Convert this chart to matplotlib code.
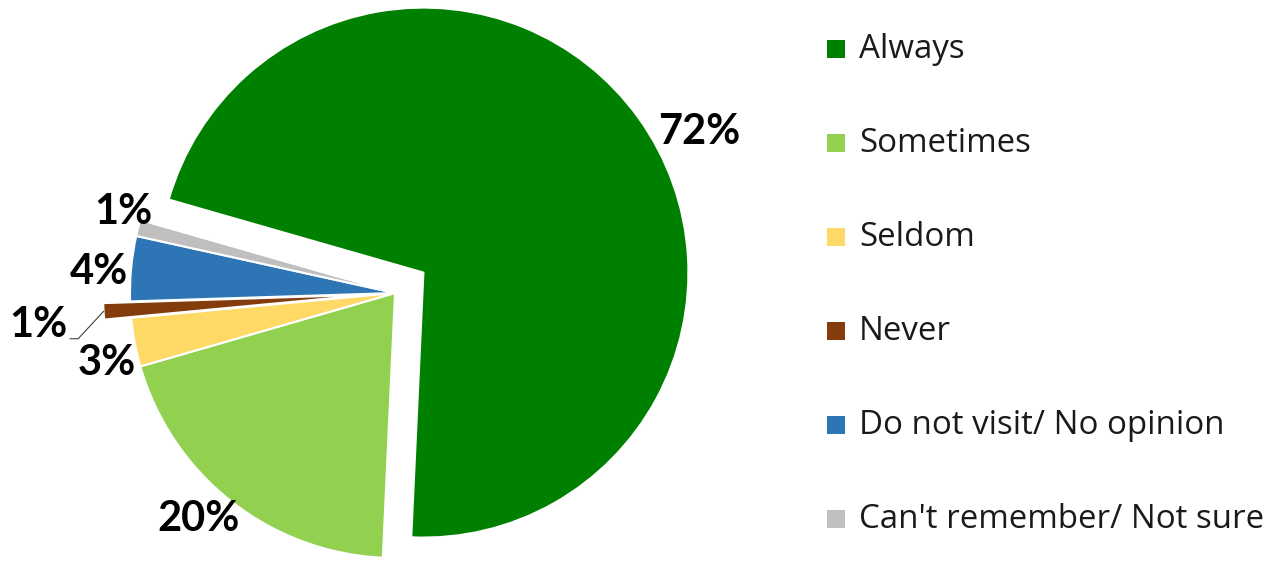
import numpy as np
import matplotlib
matplotlib.use('Agg')
import matplotlib.pyplot as plt
from matplotlib.patches import Rectangle

plt.rcParams['font.family'] = ['Lato', 'DejaVu Sans']

categories = ['Always', 'Sometimes', 'Seldom', 'Never',
              'Do not visit/ No opinion', "Can't remember/ Not sure"]
values = [72, 20, 3, 1, 4, 1]
colors = ['#008000', '#92D050', '#FFD966', '#843C0C', '#2E75B6', '#BFBFBF']
explode = [35, 0, 0, 27, 0, 0]

# label placement: radial factor and angle tweak from each wedge middle
lab_r = [1.17, 1.13, 1.12, 1.25, 1.12, 1.07]
lab_dt = [-8.7, -2.6, 3.0, 1.6, 1.3, -2.4]

W, H = 1280, 563
fig = plt.figure(figsize=(W / 100, H / 100), dpi=100)
ax = fig.add_axes([0, 0, 1, 1])

cx, cy, R = 395, H - 293, 265
wedges, _ = ax.pie(values, colors=colors, explode=explode, startangle=164,
                   counterclock=False, center=(cx, cy), radius=R,
                   wedgeprops=dict(edgecolor='white', linewidth=1.5))
ax.set_xlim(0, W)
ax.set_ylim(0, H)
ax.axis('off')

for i, w in enumerate(wedges):
    mid = (w.theta1 + w.theta2) / 2
    a = np.radians(mid + lab_dt[i])
    x0, y0 = w.center
    tx = x0 + lab_r[i] * R * np.cos(a)
    ty = y0 + lab_r[i] * R * np.sin(a)
    ax.text(tx, ty, f'{values[i]}%', ha='center', va='center',
            fontsize=30, fontweight='bold', color='black')
    if categories[i] == 'Never':
        m = np.radians(mid)
        ex, ey = x0 + R * np.cos(m), y0 + R * np.sin(m)
        ax.plot([ex, tx + 40, tx + 32], [ey, ty - 14, ty - 14],
                color='#404040', linewidth=0.8)

# legend
leg_y0, leg_dy = H - 49, 94
sq = 18
for i, (lab, col) in enumerate(zip(categories, colors)):
    y = leg_y0 - i * leg_dy
    ax.add_patch(Rectangle((827, y - sq / 2), sq, sq, facecolor=col,
                           edgecolor='none'))
    ax.text(859, y, lab, ha='left', va='center', fontsize=23.8,
            family=['Open Sans', 'DejaVu Sans'], color='#1a1a1a')

fig.savefig('out.png', dpi=100)
